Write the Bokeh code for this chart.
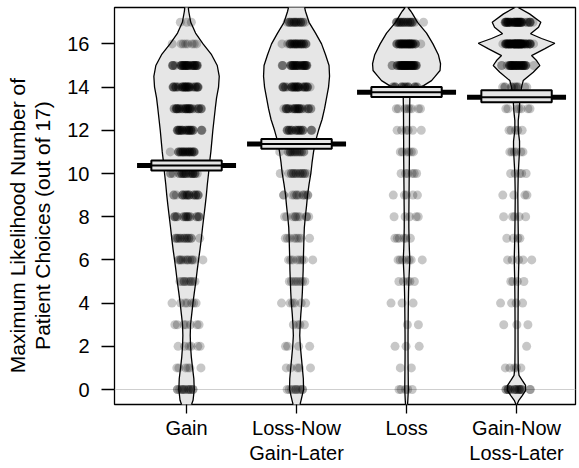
import math
from bokeh.plotting import figure
from bokeh.layouts import row
from bokeh.models import Span, FixedTicker, Range1d, LinearAxis
from bokeh.core.properties import value
from bokeh.embed import file_html
from bokeh.resources import INLINE

# ---------------- data ----------------
categories_line1 = ["Gain", "Loss-Now", "Loss", "Gain-Now"]
categories_line2 = ["", "Gain-Later", "", "Loss-Later"]
values = list(range(0, 18))  # possible numbers of patient choices (0..17)

# number of participants at each value 0..17 (read from point density)
gain_counts     = [14, 6, 6, 7, 7, 10, 13, 16, 20, 22, 25, 28, 30, 35, 38, 40, 8, 3]
lossnow_counts  = [10, 5, 4, 4, 6, 8, 8, 8, 10, 12, 16, 18, 24, 30, 35, 36, 30, 20]
loss_counts     = [5, 2, 3, 2, 3, 5, 7, 6, 5, 5, 6, 6, 6, 8, 20, 55, 45, 25]
gainnow_counts  = [20, 5, 1, 3, 4, 4, 5, 4, 5, 4, 5, 6, 5, 7, 12, 45, 75, 50]

# means and inference (HDI) bands
means    = [10.37, 11.37, 13.76, 13.53]
hdi_low  = [10.14, 11.15, 13.54, 13.30]
hdi_high = [10.60, 11.60, 14.00, 13.85]

# bean (density) profiles: y and relative density
gain_dy = [-1.0, -0.69, -0.5, 0, 0.5, 1, 1.5, 2, 2.5, 3, 3.5, 4, 4.5, 5, 5.5, 6, 6.5, 7, 7.5, 8, 8.5,
           9, 9.5, 10, 10.5, 11, 11.5, 12, 12.5, 13, 13.5, 14, 14.5, 15, 15.5, 16, 16.5, 17, 17.5, 17.7, 18.0]
gain_d  = [3.5, 5, 6.5, 7.7, 7.3, 6, 4.8, 4.0, 3.7, 4.0, 5.2, 6.4, 7.8, 9.3, 10.6, 12, 13.5, 14.8, 16, 17.3, 18.6,
           19.8, 20.8, 22, 23, 24.3, 25.3, 26.3, 27.5, 28.7, 30, 32, 32.7, 30.7, 25, 16.5, 9, 4.2, 2.2, 1.7, 1.2]

lossnow_dy = [-1.0, -0.69, -0.5, 0, 0.5, 1, 1.5, 2, 2.5, 3, 3.5, 4, 4.5, 5, 5.5, 6, 6.5, 7, 7.5, 8, 8.5,
              9, 9.5, 10, 10.5, 11, 11.5, 12, 12.5, 13, 13.5, 14, 14.5, 15, 15.5, 16, 16.5, 17, 17.5, 17.7, 18.0]
lossnow_d  = [2.5, 3.5, 4.5, 7, 6.8, 5.8, 4.8, 3.8, 3.2, 3.6, 4.3, 5.2, 5.8, 6.2, 6.6, 6.8, 7.1, 7.4, 7.8, 8.8, 10,
              11, 12.5, 14.3, 15.5, 17, 19, 22, 25.5, 28, 30, 32, 33, 32.5, 29, 25, 19, 12.5, 9, 8, 6]

loss_dy = [-1.0, -0.69, -0.5, 0, 0.5, 1, 1.5, 2, 2.5, 3, 3.5, 4, 4.5, 5, 5.5, 6, 6.5, 7, 7.5, 8, 8.5,
           9, 9.5, 10, 10.5, 11, 11.5, 12, 12.5, 13, 13.5, 13.7, 13.92, 14.07, 14.3, 14.5, 14.77, 15.08, 15.5,
           16, 16.5, 17, 17.39, 17.5, 17.75]
loss_d  = [0.8, 1.0, 1.3, 1.8, 1.7, 1.6, 1.5, 1.5, 1.5, 1.6, 1.7, 1.8, 2, 2.3, 2.8, 3.3, 2.8, 2.5, 2.3, 2.3, 2.4,
           2.5, 2.6, 2.7, 2.8, 2.9, 2.9, 3.0, 3.0, 3.1, 3.3, 4.5, 9, 17, 25, 28.6, 33.5, 34, 31.8,
           26.4, 20, 11, 6, 4.5, 0.3]

gainnow_dy = [-0.8, -0.69, -0.5, -0.28, -0.05, 0.19, 0.42, 0.65, 1.0, 2, 3, 4, 5, 6, 7, 8, 9, 10,
              11.07, 11.5, 12.0, 12.45, 12.9, 13.38, 14.0, 14.3, 14.69, 15.0, 15.23, 15.46, 15.77, 16.03,
              16.25, 16.47, 16.77, 17.0, 17.39, 17.72]
gainnow_d  = [0.2, 0.5, 2.3, 5.7, 9.0, 9.0, 5.7, 2.5, 1.7, 1.5, 1.5, 1.6, 1.8, 2.3, 1.8, 1.5, 1.3, 1.7,
              3, 3, 1.7, 1.7, 2.7, 3.3, 5, 6.7, 16.7, 23.3, 20, 15, 28, 38.3,
              25, 14, 22, 24.3, 13, 0.3]

counts = [gain_counts, lossnow_counts, loss_counts, gainnow_counts]
beans = [(gain_dy, gain_d), (lossnow_dy, lossnow_d), (loss_dy, loss_d), (gainnow_dy, gainnow_d)]
y_ticks = [0, 2, 4, 6, 8, 10, 12, 14, 16]
y_title_lines = ["Maximum Likelihood Number of", "Patient Choices (out of 17)"]

# ---------------- styling constants ----------------
FONT = "Liberation Sans"
BEAN_SCALE = 1.0 / 110.0   # density units -> category units
JIT = 0.16
AVG_HALF = 0.45
BOX_HALF = 0.32
LAB_W = 60
Y_RANGE = (-0.694, 17.685)

# ---------------- main figure ----------------
p = figure(width=579 - LAB_W, height=468,
           x_range=Range1d(0.345, 4.536), y_range=Range1d(*Y_RANGE),
           output_backend="svg", toolbar_location=None,
           min_border_left=114 - LAB_W, min_border_right=4, min_border_top=7, min_border_bottom=64)
p.xgrid.visible = False
p.ygrid.visible = False
p.outline_line_color = "black"
p.outline_line_width = 1.3
p.outline_line_alpha = 1.0
p.background_fill_color = "white"
p.border_fill_color = "white"

p.add_layout(Span(location=0, dimension="width", line_color="#cfcfcf", line_width=1, level="underlay"))

xs_pos = [1, 2, 3, 4]

# bean fills
for c, (dy, d) in zip(xs_pos, beans):
    left = [c - w * BEAN_SCALE for w in d]
    right = [c + w * BEAN_SCALE for w in d]
    p.patch(left + right[::-1], list(dy) + list(dy)[::-1], fill_color="#e6e6e6", line_color=None)

# points (deterministic jitter)
def offsets(n, k):
    out = []
    for i in range(n):
        u1 = (0.13 * k + (i + 1) * 0.6180339887) % 1.0
        u2 = (0.57 * k + (i + 1) * 0.7548776662) % 1.0
        out.append((u1 + u2 - 1.0) * JIT)
    return out

ptx, pty = [], []
for gi, (c, cnt) in enumerate(zip(xs_pos, counts)):
    for v, n in zip(values, cnt):
        for o in offsets(n, gi * 18 + v):
            ptx.append(c + o)
            pty.append(v)
p.scatter(ptx, pty, size=9, fill_color="black", fill_alpha=0.22, line_color=None)

# bean outlines
for c, (dy, d) in zip(xs_pos, beans):
    left = [c - w * BEAN_SCALE for w in d]
    right = [c + w * BEAN_SCALE for w in d]
    p.patch(left + right[::-1], list(dy) + list(dy)[::-1], fill_alpha=0, line_color="black", line_width=1.3)

# average lines and inference boxes
p.segment(x0=[c - AVG_HALF for c in xs_pos], x1=[c + AVG_HALF for c in xs_pos],
          y0=means, y1=means, line_color="black", line_width=5)
p.quad(left=[c - BOX_HALF for c in xs_pos], right=[c + BOX_HALF for c in xs_pos],
       bottom=hdi_low, top=hdi_high, fill_color="#e6e6e6", line_color="black", line_width=2)
p.segment(x0=[c - BOX_HALF for c in xs_pos], x1=[c + BOX_HALF for c in xs_pos],
          y0=means, y1=means, line_color="black", line_width=2)

# axes
p.xaxis.ticker = FixedTicker(ticks=xs_pos)
p.xaxis.major_label_overrides = {c: lab for c, lab in zip(xs_pos, categories_line1)}
p.yaxis.ticker = FixedTicker(ticks=y_ticks)
for ax in (p.xaxis, p.yaxis):
    ax.axis_line_color = None
    ax.minor_tick_line_color = None
    ax.major_tick_line_color = "black"
    ax.major_tick_line_width = 1.3
    ax.major_tick_in = 0
    ax.major_label_text_font = FONT
    ax.major_label_text_font_size = "20px"
    ax.major_label_text_color = "black"
p.yaxis.major_tick_out = 13
p.yaxis.major_label_standoff = 12
p.xaxis.major_tick_out = 9
p.xaxis.major_label_standoff = 3

# second line of category labels
ax2 = LinearAxis(ticker=FixedTicker(ticks=xs_pos),
                 major_label_overrides={c: lab for c, lab in zip(xs_pos, categories_line2)})
ax2.axis_line_color = None
ax2.minor_tick_line_color = None
ax2.major_tick_line_color = None
ax2.major_tick_in = 0
ax2.major_tick_out = 0
ax2.major_label_standoff = 0
ax2.major_label_text_font = FONT
ax2.major_label_text_font_size = "20px"
ax2.major_label_text_color = "black"
p.add_layout(ax2, "below")

# ---------------- y-axis title panel ----------------
pl = figure(width=LAB_W, height=468, x_range=Range1d(0, LAB_W), y_range=Range1d(*Y_RANGE),
            output_backend="svg", toolbar_location=None,
            x_axis_location=None, y_axis_location=None,
            min_border_left=0, min_border_right=0, min_border_top=7, min_border_bottom=64)
pl.xgrid.visible = False
pl.ygrid.visible = False
pl.outline_line_color = None
pl.background_fill_color = "white"
pl.border_fill_color = "white"
pl.text(x=[17, 42], y=[7.59, 7.59], text=y_title_lines, angle=math.pi / 2,
        text_align="center", text_baseline="alphabetic",
        text_font=value(FONT), text_font_size=value("21px"), text_color="black")

layout = row(pl, p, spacing=0)
open("out.html", "w").write(file_html(layout, INLINE))
